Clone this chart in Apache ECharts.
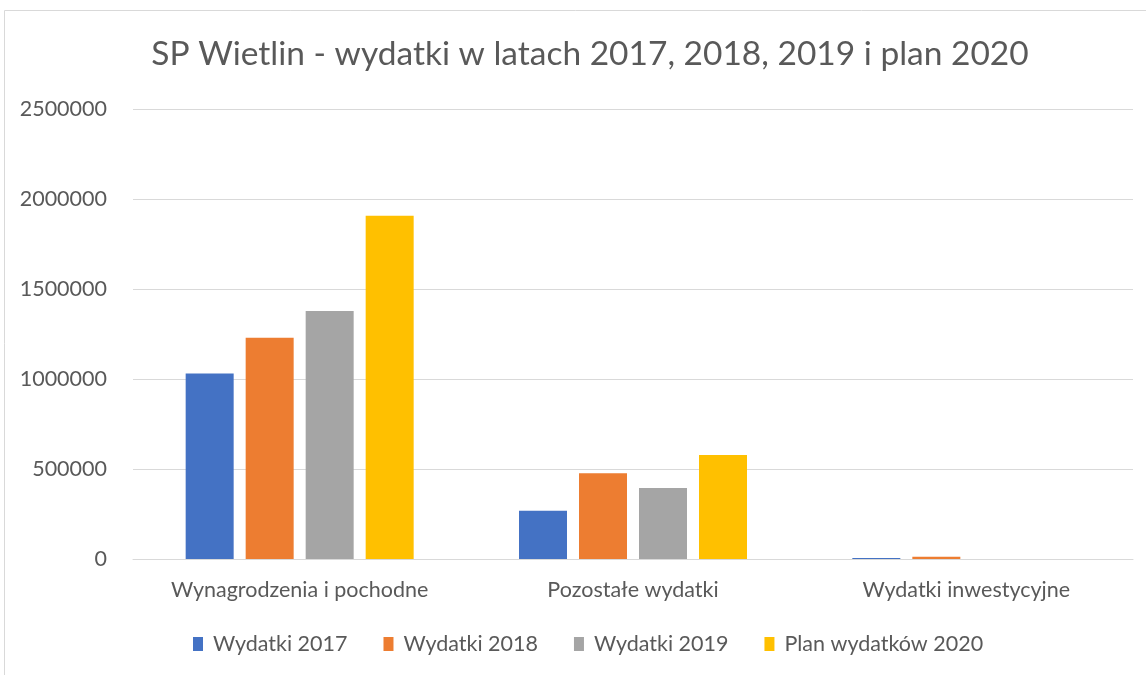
<!DOCTYPE html>
<html><head><meta charset="utf-8">
<script src="https://cdn.jsdelivr.net/npm/echarts@6/dist/echarts.min.js"></script>
<style>html,body{margin:0;padding:0;background:#fff}#c{width:1146px;height:675px}</style>
</head><body><div id="c"></div>
<script>
const categories = ['Wynagrodzenia i pochodne', 'Pozostałe wydatki', 'Wydatki inwestycyjne'];
const seriesNames = ['Wydatki 2017', 'Wydatki 2018', 'Wydatki 2019', 'Plan wydatków 2020'];
const wyd2017 = [1030000, 268000, 5000];
const wyd2018 = [1229000, 476000, 13000];
const wyd2019 = [1378000, 394000, 0];
const plan2020 = [1907000, 578000, 0];
const colors = ['#4472C4', '#ED7D31', '#A5A5A5', '#FFC000'];
const yTicks = [0, 500000, 1000000, 1500000, 2000000, 2500000];

const font = 'Lato, "Open Sans", sans-serif';
const chart = echarts.init(document.getElementById('c'));
const data = [wyd2017, wyd2018, wyd2019, plan2020];
chart.setOption({
  animation: false,
  title: {
    text: 'SP Wietlin - wydatki w latach 2017, 2018, 2019 i plan 2020',
    left: 585, top: 32, textAlign: 'center',
    textStyle: { fontFamily: font, fontSize: 33.5, fontWeight: 'normal', color: '#595959' }
  },
  graphic: [{
    type: 'rect', shape: { x: 4.5, y: 10.5, width: 1160, height: 700 },
    style: { fill: 'none', stroke: '#d9d9d9', lineWidth: 1 }, silent: true, z: -1
  }],
  legend: {
    bottom: 15, left: 188, itemWidth: 10, itemHeight: 14, itemGap: 36,
    icon: 'rect',
    textStyle: { fontFamily: font, fontSize: 21.5, color: '#595959', padding: [0, 0, 0, 5] },
    data: seriesNames
  },
  grid: { left: 133, right: 13, top: 109, bottom: 116, containLabel: false },
  xAxis: {
    type: 'category', data: categories,
    axisLine: { lineStyle: { color: '#d9d9d9', width: 1 } },
    axisTick: { show: false },
    axisLabel: { fontFamily: font, fontSize: 21.5, color: '#595959', margin: 20, interval: 0 }
  },
  yAxis: {
    type: 'value', min: yTicks[0], max: yTicks[yTicks.length - 1], interval: 500000,
    axisLine: { show: false }, axisTick: { show: false },
    splitLine: { lineStyle: { color: '#d9d9d9', width: 1 } },
    axisLabel: { fontFamily: font, fontSize: 21.5, color: '#595959', margin: 26,
      formatter: v => String(v) }
  },
  series: seriesNames.map((n, i) => ({
    name: n, type: 'bar', data: data[i], barWidth: '14.4%', barGap: '25%',
    itemStyle: { color: colors[i] }
  }))
});
</script></body></html>
